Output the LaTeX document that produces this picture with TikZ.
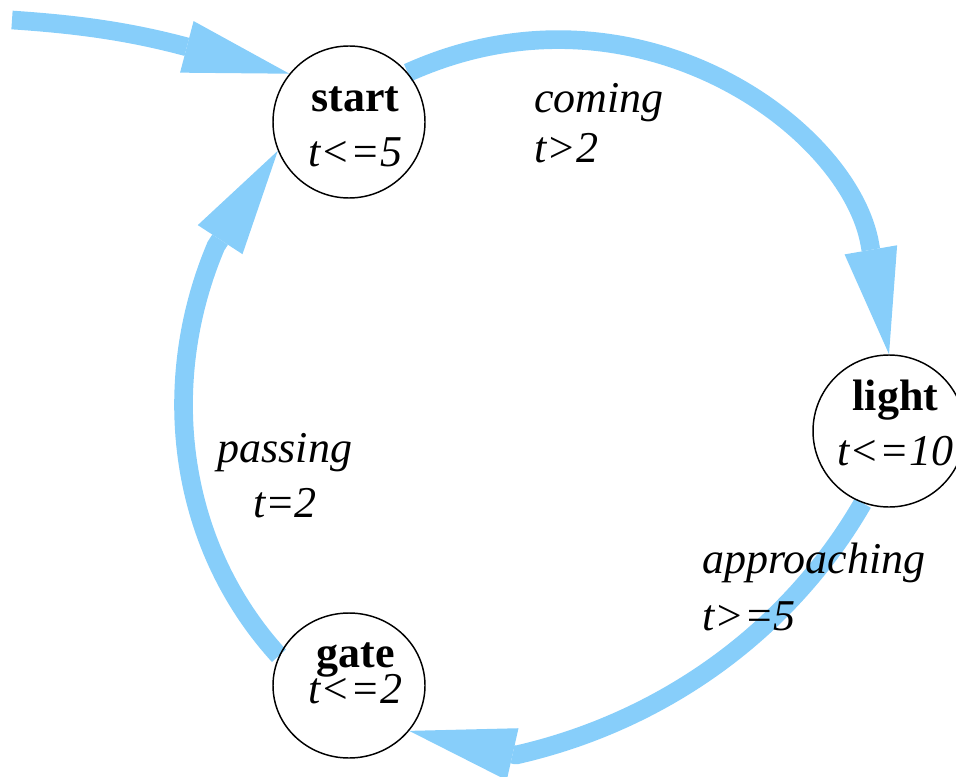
\documentclass[tikz,border=0pt]{standalone}
\usepackage{fontspec}
\setmainfont{Liberation Serif}
\usetikzlibrary{arrows.meta,shapes.geometric}
\pgfdeclarelayer{edges}
\pgfsetlayers{edges,main}
\definecolor{edgeblue}{RGB}{135,206,250}

% Two stacked lines whose box baseline is the first line's baseline
\newcommand\centredlines[3]{\vtop{\baselineskip=#1\relax\lineskiplimit=-\maxdimen
  \halign{\hfil##\hfil\cr#2\cr#3\cr}}}
\newcommand\leftlines[3]{\vtop{\baselineskip=#1\relax\lineskiplimit=-\maxdimen
  \halign{##\hfil\cr#2\cr#3\cr}}}

\begin{document}
\begin{tikzpicture}[x=0.75pt,y=-0.75pt,
  every node/.style={inner sep=0pt, font=\fontsize{33pt}{41.25pt}\selectfont},
  state/.style={circle, draw, line width=1.1pt, minimum size=114pt},
  flow/.style={color=edgeblue, line width=14pt, line join=round,
    -{Triangle[length=79.5pt, width=40pt, line width=0pt]}},
  guardleft/.style={anchor=base west, font=\fontsize{33pt}{41.25pt}\selectfont\itshape},
  guardmid/.style={anchor=base, font=\fontsize{33pt}{41.25pt}\selectfont\itshape}]
  \useasboundingbox (0,0) rectangle (956,777);

  % locations
  \node[state, text height=22.5pt, text depth=37.5pt] (start) at (349,122)
    {\centredlines{41.25pt}{\bfseries start}{\itshape t<=5}\kern-9.75pt};
  \node[state, text height=15pt, text depth=46.5pt] (light) at (889,431)
    {\centredlines{41.25pt}{\bfseries light}{\itshape t<=10}\kern-9.75pt};
  \node[ellipse, draw, line width=1.1pt, minimum width=114pt, minimum height=108.75pt,
    text height=15pt, text depth=42.75pt] (gate) at (349,685.5)
    {\centredlines{27pt}{\bfseries gate}{\itshape t<=2}\kern-9.75pt};

  % free end of the initial arrow and the points where each arrowhead begins
  \coordinate (entry) at (12,20);
  \coordinate (base0) at (182,45.6);
  \coordinate (base1) at (870,245);
  \coordinate (base2) at (516,755);
  \coordinate (base3) at (216,246);

  % transitions, kept beneath the location outlines
  \begin{pgfonlayer}{edges}
    \draw[flow] (entry) .. controls (72,24) and (124,30.4) .. (base0) -- (start.141);
    \draw[flow] (start.40) .. controls (634.5,-29.5) and (850,127) .. (base1) -- (light.north);
    \draw[flow] (light.250) .. controls (788,632.5) and (661.5,722) .. (base2) -- (gate.-37);
    \draw[flow] (gate.157) .. controls (177,544) and (158,383) .. (base3) -- (start.202);
  \end{pgfonlayer}

  % transition labels
  \node[guardleft] (lcoming) at (534,113) {\leftlines{37.5pt}{coming}{t>2}};
  \node[guardmid] (lpassing) at (285,462) {\centredlines{41.25pt}{passing}{t=2}};
  \node[guardleft] (lapproach) at (702,573) {\leftlines{42.75pt}{approaching}{t>=5}};
\end{tikzpicture}
\end{document}
